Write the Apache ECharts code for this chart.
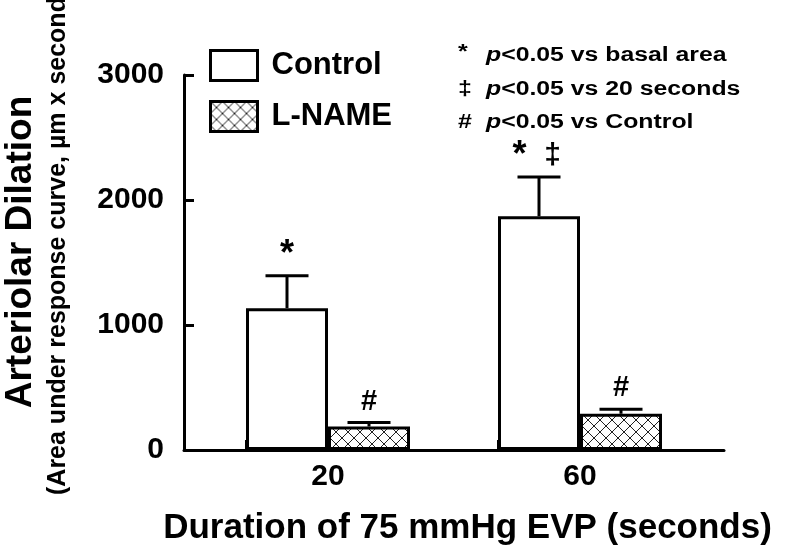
<!DOCTYPE html>
<html><head><meta charset="utf-8">
<script src="https://cdn.jsdelivr.net/npm/echarts@6/dist/echarts.min.js"></script>
<style>html,body{margin:0;padding:0;background:#fff}#c{width:800px;height:554px}</style>
</head><body><div id="c"></div>
<script>
// ---- data ----
const categories = ['20', '60'];
const seriesNames = ['Control', 'L-NAME'];
const controlMean = [1135, 1870];
const controlSE = [260, 315];
const lnameMean = [188, 290];
const lnameSE = [32, 36];
const controlMarks = ['*', '* ‡'];
const lnameMarks = ['#', '#'];
const yTickValues = [0, 1000, 2000, 3000];
const keySymbols = ['*', '‡', '#'];
const keyTexts = ['<0.05 vs basal area', '<0.05 vs 20 seconds', '<0.05 vs Control'];
const xTitle = 'Duration of 75 mmHg EVP (seconds)';
const yTitle = 'Arteriolar Dilation';
const ySubTitle = '(Area under response curve, µm x seconds)';

// ---- layout / style ----
const FONT = '"Liberation Sans", Arial, Helvetica, sans-serif';
const BAR_W = 82;
const GRID = { left: 184, right: 76, top: 75, bottom: 104 };
const X_MIN = -4 / 7, X_MAX = 11 / 7;
const plotW = 800 - GRID.left - GRID.right;
const unitPx = plotW / (X_MAX - X_MIN);
const tickShift = BAR_W / unitPx;
const markFont = { '*': 36, '#': 29, '‡': 30 };

// cross-hatch pattern
const pc = document.createElement('canvas');
pc.width = 12; pc.height = 12;
const g = pc.getContext('2d');
g.fillStyle = '#fff'; g.fillRect(0, 0, 12, 12);
g.strokeStyle = '#222'; g.lineWidth = 1;
g.beginPath();
g.moveTo(-1, -1); g.lineTo(13, 13);
g.moveTo(13, -1); g.lineTo(-1, 13);
g.stroke();
const hatch = { image: pc, repeat: 'repeat' };

const ctrlData = categories.map((c, i) => [i, controlMean[i]]);
const lnData = categories.map((c, i) => [i, lnameMean[i]]);
const ctrlErr = categories.map((c, i) => [i, controlMean[i], controlSE[i]]);
const lnErr = categories.map((c, i) => [i, lnameMean[i], lnameSE[i]]);

function errRender(marks, side) {
  return function (params, api) {
    const i = params.dataIndex;
    const x = api.value(0), m = api.value(1), se = api.value(2);
    const base = api.coord([x, m]);
    const top = api.coord([x, m + se]);
    const cx = base[0] + side * BAR_W / 2;
    const children = [
      { type: 'line', shape: { x1: cx, y1: base[1], x2: cx, y2: top[1] }, style: { stroke: '#000', lineWidth: 3 } },
      { type: 'line', shape: { x1: cx - 21.5, y1: top[1], x2: cx + 21.5, y2: top[1] }, style: { stroke: '#000', lineWidth: 3 } }
    ];
    const parts = marks[i].split(' ');
    parts.forEach((ch, k) => {
      children.push({
        type: 'text',
        x: cx + (k - (parts.length - 1) / 2) * 33 - (parts.length > 1 ? 3 : 0),
        y: top[1] - 21,
        style: {
          text: ch, fill: '#000', align: 'center', verticalAlign: 'middle',
          font: 'bold ' + (markFont[ch] || 30) + 'px ' + FONT
        }
      });
    });
    return { type: 'group', children };
  };
}

const graphics = [
  { type: 'text', x: 21, y: 252, rotation: Math.PI / 2,
    style: { text: yTitle, fill: '#000', align: 'center', verticalAlign: 'middle', font: 'bold 37px ' + FONT } },
  { type: 'text', x: 58, y: 495, rotation: Math.PI / 2,
    style: { text: ySubTitle, fill: '#000', align: 'left', verticalAlign: 'middle', font: 'bold 25px ' + FONT } }
];
keySymbols.forEach((s, k) => {
  const y = 55.5 + k * 33.5;
  graphics.push({ type: 'text', x: 458, y: y - (s === '*' ? 3 : 0), scaleX: 1.25,
    style: { text: s, fill: '#000', align: 'left', verticalAlign: 'middle', font: 'bold 20px ' + FONT } });
  graphics.push({ type: 'text', x: 486, y: y, scaleX: 1.24,
    style: { text: '{i|p}' + keyTexts[k], fill: '#000', align: 'left', verticalAlign: 'middle', font: 'bold 20px ' + FONT,
      rich: { i: { font: 'italic bold 20px ' + FONT, fill: '#000' } } } });
});

const chart = echarts.init(document.getElementById('c'), null, { renderer: 'canvas' });
chart.setOption({
  backgroundColor: '#fff',
  animation: false,
  grid: GRID,
  legend: {
    data: seriesNames, orient: 'vertical', left: 209, top: 49, padding: 0,
    itemWidth: 47, itemHeight: 30, itemGap: 18, icon: 'rect',
    itemStyle: { borderColor: '#000', borderWidth: 3 },
    textStyle: { fontSize: 31, fontWeight: 'bold', color: '#000', fontFamily: FONT, padding: [0, 0, 0, 9] }
  },
  xAxis: {
    type: 'value', min: X_MIN, max: X_MAX,
    axisLine: { show: true, onZero: false, lineStyle: { color: '#000', width: 3 } },
    axisTick: { show: true, inside: true, length: 10, lineStyle: { color: '#000', width: 3 },
      customValues: categories.map((c, i) => i - tickShift) },
    axisLabel: { customValues: categories.map((c, i) => i), formatter: v => categories[Math.round(v)],
      fontSize: 30, fontWeight: 'bold', color: '#000', fontFamily: FONT, margin: 12 },
    splitLine: { show: false },
    name: xTitle, nameLocation: 'middle', nameGap: 61,
    nameTextStyle: { fontSize: 35, fontWeight: 'bold', color: '#000', fontFamily: FONT, padding: [0, 0, 0, 27] }
  },
  yAxis: {
    type: 'value', min: 0, max: 3000, interval: 1000,
    axisLine: { show: true, onZero: false, lineStyle: { color: '#000', width: 3 } },
    axisTick: { show: true, inside: true, length: 10, lineStyle: { color: '#000', width: 3 } },
    axisLabel: { fontSize: 30, fontWeight: 'bold', color: '#000', fontFamily: FONT, margin: 20,
      formatter: v => String(v) },
    splitLine: { show: false }
  },
  graphic: graphics,
  series: [
    { name: seriesNames[0], type: 'bar', data: ctrlData, barWidth: BAR_W, barGap: '0%',
      itemStyle: { color: '#fff', borderColor: '#000', borderWidth: 3 } },
    { name: seriesNames[1], type: 'bar', data: lnData, barWidth: BAR_W, barGap: '0%',
      itemStyle: { color: hatch, borderColor: '#000', borderWidth: 3 } },
    { type: 'custom', data: ctrlErr, renderItem: errRender(controlMarks, -1), z: 5 },
    { type: 'custom', data: lnErr, renderItem: errRender(lnameMarks, 1), z: 5 }
  ]
});
</script></body></html>
